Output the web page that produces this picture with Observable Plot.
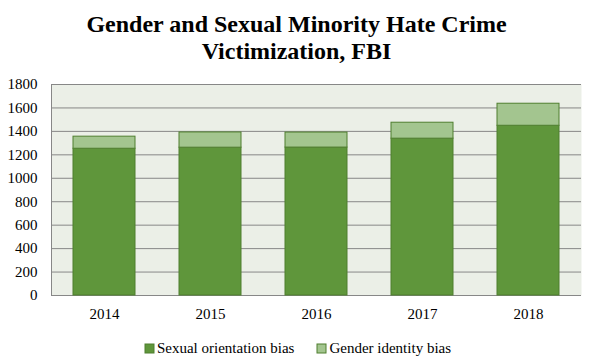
<!DOCTYPE html>
<html>
<head>
<meta charset="utf-8">
<script src="https://cdn.jsdelivr.net/npm/d3@7"></script>
<script src="https://cdn.jsdelivr.net/npm/@observablehq/plot@0.6"></script>
<style>
  html, body { margin: 0; padding: 0; background: #fff; }
  body { width: 590px; height: 361px; overflow: hidden; font-family: "Liberation Serif", "Times New Roman", serif; }
  #title { height: 65px; box-sizing: border-box; padding-top: 11px; text-align: center; font-weight: bold; font-size: 24px; line-height: 27px; color: #000; padding-left: 3px; }
  #chart svg { display: block; }
  #legend, #legend * { font-family: "Liberation Serif", "Times New Roman", serif !important; font-size: 15px !important; color: #000 !important; }
  .lg-swatches { justify-content: center; min-height: 26px !important; margin: 0 !important; padding-left: 6px; align-items: center; }
  .lg-swatch { margin-right: 23px !important; }
  .lg-swatch:last-child { margin-right: 0 !important; }
  .lg-swatch > svg { margin-right: 3px !important; }
  .lg-swatch > svg rect { stroke: #4f7f2f; stroke-width: 1px; }
</style>
</head>
<body>
<div id="title">Gender and Sexual Minority Hate Crime<br>Victimization, FBI</div>
<div id="chart"></div>
<div id="legend"></div>
<script>
const years = ["2014", "2015", "2016", "2017", "2018"];
const seriesNames = ["Sexual orientation bias", "Gender identity bias"];
const sexualOrientation = [1252, 1261, 1262, 1338, 1448];
const genderIdentity = [103, 130, 128, 136, 188];
const yTicks = [0, 200, 400, 600, 800, 1000, 1200, 1400, 1600, 1800];
const colors = ["#5f963b", "#a3c58f"];

const table = [];
years.forEach((y, i) => {
  table.push({year: y, series: seriesNames[0], value: sexualOrientation[i]});
  table.push({year: y, series: seriesNames[1], value: genderIdentity[i]});
});

const font = "Liberation Serif, Times New Roman, serif";

const plot = Plot.plot({
  width: 590,
  height: 270,
  marginTop: 19,
  marginBottom: 40,
  marginLeft: 51,
  marginRight: 9,
  style: {fontFamily: font, fontSize: "15px", color: "#000", background: "transparent"},
  x: {domain: years, paddingInner: 0.415, paddingOuter: 0.2075, label: null},
  y: {domain: [0, 1800], label: null},
  color: {domain: seriesNames, range: colors},
  marks: [
    Plot.frame({fill: "#ebefe7", stroke: null}),
    Plot.ruleY(yTicks, {stroke: "#878787", strokeWidth: 1}),
    Plot.frame({anchor: "left", stroke: "#878787", strokeWidth: 1}),
    Plot.barY(table, Plot.stackY({
      x: "year", y: "value", fill: "series",
      order: seriesNames,
      stroke: "#4f7f2f", strokeWidth: 1,
      insetLeft: 0, insetRight: 0
    })),
    Plot.axisY({ticks: yTicks, tickFormat: d3.format("d"), tickSize: 0, tickPadding: 14, label: null, fill: "#000"}),
    Plot.axisX({tickSize: 0, tickPadding: 13, label: null, fill: "#000"})
  ]
});
document.getElementById("chart").appendChild(plot);

const legend = Plot.legend({
  color: {domain: seriesNames, range: colors},
  swatchSize: 9,
  className: "lg"
});
document.getElementById("legend").appendChild(legend);
</script>
</body>
</html>
